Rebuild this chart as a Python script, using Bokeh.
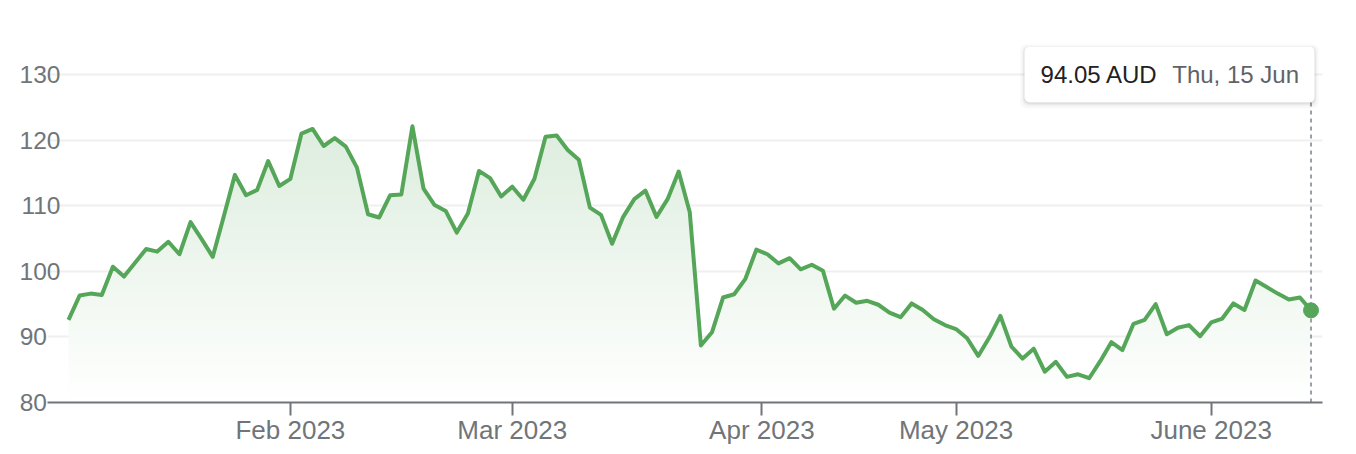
import numpy as np
import pandas as pd
from bokeh.plotting import figure
from bokeh.models import Range1d, FixedTicker, BoxAnnotation, Label
from bokeh.embed import file_html
from bokeh.resources import INLINE

# ---------------- data ----------------
prices = [
    92.6, 96.3, 96.6, 96.4, 100.7, 99.2, 101.3, 103.4, 103.0, 104.5,
    102.6, 107.5, 104.9, 102.2, 108.4, 114.7, 111.6, 112.4, 116.8, 113.0,
    114.1, 121.0, 121.7, 119.1, 120.3, 119.0, 115.8, 108.7, 108.2, 111.6,
    111.7, 122.1, 112.6, 110.1, 109.2, 105.9, 108.8, 115.3, 114.2, 111.4,
    112.9, 110.9, 114.1, 120.5, 120.7, 118.5, 117.0, 109.7, 108.6, 104.2,
    108.3, 111.0, 112.3, 108.3, 111.0, 115.2, 109.0, 88.7, 90.7, 96.0,
    96.5, 98.8, 103.3, 102.6, 101.2, 102.0, 100.3, 101.0, 100.1, 94.3,
    96.3, 95.2, 95.5, 94.9, 93.7, 93.0, 95.1, 94.1, 92.7, 91.8,
    91.2, 89.8, 87.1, 89.9, 93.2, 88.5, 86.7, 88.2, 84.7, 86.2,
    83.9, 84.3, 83.7, 86.3, 89.2, 88.0, 92.0, 92.6, 95.0, 90.4,
    91.4, 91.8, 90.1, 92.2, 92.8, 95.1, 94.1, 98.6, 97.6, 96.6,
    95.7, 96.0, 94.05,
]
first_day, last_day = "2023-01-03", "2023-06-15"
holidays = ["2023-01-02", "2023-01-26", "2023-04-07", "2023-04-10",
            "2023-04-25", "2023-06-12"]
month_starts = ["2023-02-01", "2023-03-01", "2023-04-01", "2023-05-01", "2023-06-01"]
month_labels = ["Feb 2023", "Mar 2023", "Apr 2023", "May 2023", "June 2023"]
y_ticks = [80, 90, 100, 110, 120, 130]
tip_value = "94.05 AUD"
tip_date = "Thu, 15 Jun"

# ---------------- derived ----------------
dates = pd.bdate_range(first_day, last_day, freq="C", holidays=holidays)
n = min(len(dates), len(prices))
xs = np.arange(n, dtype=float)
ys = np.array(prices[:n], dtype=float)

tick_pos = []
for m in month_starts:
    ts = pd.Timestamp(m)
    i = int(np.searchsorted(dates.values, ts.to_datetime64()))
    tick_pos.append(float(i) if (i < len(dates) and dates[i] == ts) else i - 0.5)

GREEN = "#55a659"
GREY = "#70757a"
FONT = "Liberation Sans"

W, H = 1356, 454
ML, MR, MT, MB = 47, 34, 40, 52
FW, FH = W - ML - MR, H - MT - MB
px_per_x = 11.094
px_per_y = 6.56
x_start = -(68 - ML) / px_per_x
x_end = x_start + FW / px_per_x
y_start = 80
y_end = y_start + FH / px_per_y

p = figure(width=W, height=H, output_backend="svg", toolbar_location=None,
           x_range=Range1d(x_start, x_end), y_range=Range1d(y_start, y_end),
           min_border_left=ML, min_border_right=MR,
           min_border_top=MT, min_border_bottom=MB)
p.outline_line_color = None
p.background_fill_color = "white"
p.border_fill_color = "white"
p.xgrid.visible = False
p.ygrid.grid_line_color = "#efefef"
p.ygrid.grid_line_width = 2

# x axis
ax = p.xaxis[0]
ax.ticker = FixedTicker(ticks=tick_pos)
ax.major_label_overrides = {t: l for t, l in zip(tick_pos, month_labels)}
ax.axis_line_color = GREY
ax.axis_line_width = 2
ax.major_tick_line_color = GREY
ax.major_tick_line_width = 2
ax.major_tick_out = 13
ax.major_tick_in = 0
ax.minor_tick_out = 0
ax.minor_tick_in = 0
ax.major_label_text_font = FONT
ax.major_label_text_font_size = "26px"
ax.major_label_text_color = GREY
ax.major_label_standoff = -1

# y axis: labels appear left-aligned (short labels padded to 3-digit width)
yax = p.yaxis[0]
yax.ticker = FixedTicker(ticks=y_ticks)
width3 = max(len(str(v)) for v in y_ticks)
yax.major_label_overrides = {v: str(v) + "\u00a0\u00a0" * (width3 - len(str(v)))
                             for v in y_ticks}
yax.axis_line_color = None
yax.major_tick_out = 0
yax.major_tick_in = 0
yax.minor_tick_out = 0
yax.minor_tick_in = 0
yax.major_label_text_font = FONT
yax.major_label_text_font_size = "24.5px"
yax.major_label_text_color = GREY
yax.major_label_standoff = -13

# vertical gradient fill under the line: opaque bands, colour fading to white
def tint(a):
    r, g, b = int(GREEN[1:3], 16), int(GREEN[3:5], 16), int(GREEN[5:7], 16)
    mix = lambda c: int(round(255 - (255 - c) * a))
    return "#%02x%02x%02x" % (mix(r), mix(g), mix(b))

step = 1.0
ov = 0.25
levels = np.arange(y_start, 131, step)
for lv in levels:
    a = 0.26 * (lv + step / 2 - y_start) / (135 - y_start)
    top = np.minimum(ys, lv + step)
    bot = np.minimum(ys, max(lv - ov, y_start))
    p.varea(x=xs, y1=bot, y2=top, fill_color=tint(a), fill_alpha=1.0)

# tooltip geometry (pixel offsets converted to data units)
def dx(px):
    return px / px_per_x

def dy(px):
    return px / px_per_y

last_x, last_y = xs[-1], ys[-1]
b_left = last_x - dx(286.5)
b_right = last_x + dx(3.5)
b_top = y_end - dy(6)
b_bottom = y_end - dy(61.7)

# dotted guide from tooltip down to axis
p.segment(x0=[last_x], y0=[y_start], x1=[last_x], y1=[b_bottom],
          line_color="#9aa0a6", line_dash="4 4", line_width=2)

p.line(xs, ys, line_color=GREEN, line_width=4, line_join="round")
p.scatter([last_x], [last_y], size=15, fill_color=GREEN, line_color=GREEN)

for grow, shift, a in [(4, 2, 0.035), (2, 1.5, 0.05), (1, 1, 0.08)]:
    p.add_layout(BoxAnnotation(left=b_left - dx(grow), right=b_right + dx(grow),
                               top=b_top + dy(grow) - dy(shift),
                               bottom=b_bottom - dy(grow) - dy(shift),
                               fill_color="#3c4043", fill_alpha=a, line_color=None,
                               border_radius=6))
p.add_layout(BoxAnnotation(left=b_left, right=b_right, top=b_top, bottom=b_bottom,
                           fill_color="white", fill_alpha=1.0, line_color=None,
                           border_radius=5))
ty = y_end - dy(33.5)
p.add_layout(Label(x=b_left + dx(16), y=ty, text=tip_value, text_font=FONT,
                   text_font_size="24px", text_color="#202124",
                   text_baseline="middle", text_align="left"))
p.add_layout(Label(x=b_left + dx(147.7), y=ty, text=tip_date, text_font=FONT,
                   text_font_size="24px", text_color="#5f6368",
                   text_baseline="middle", text_align="left"))

open("out.html", "w").write(file_html(p, INLINE))
